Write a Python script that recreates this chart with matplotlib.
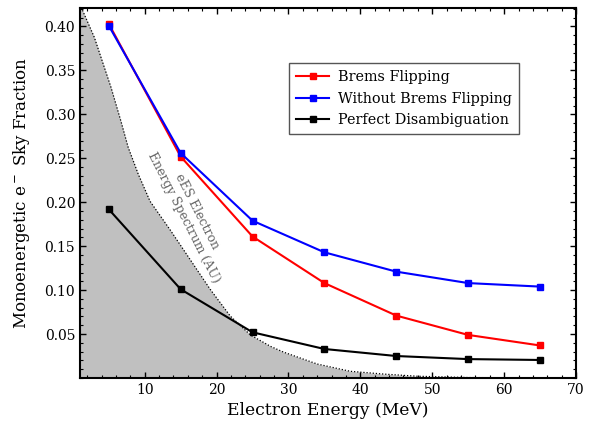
import matplotlib
matplotlib.use("Agg")
import matplotlib.pyplot as plt
from matplotlib.ticker import MultipleLocator

plt.rcParams['font.family'] = ['DejaVu Serif']
plt.rcParams['mathtext.fontset'] = 'dejavuserif'

energy = [5, 15, 25, 35, 45, 55, 65]
brems_flipping = [0.403, 0.252, 0.161, 0.108, 0.071, 0.049, 0.037]
without_brems = [0.401, 0.256, 0.179, 0.143, 0.121, 0.108, 0.104]
perfect = [0.192, 0.101, 0.052, 0.033, 0.025, 0.0215, 0.0205]

spec_energy = [1, 3, 5.3, 6.7, 7.7, 9.1, 10.75, 13.5, 16.3, 19.1, 21.9, 24.7,
               27.5, 29.3, 34, 38.6, 43.2, 47.9, 55, 70]
spec_value = [0.425, 0.3875, 0.331, 0.292, 0.2625, 0.232, 0.201, 0.169, 0.135,
              0.101, 0.0705, 0.049, 0.036, 0.0295, 0.0159, 0.0076, 0.0045,
              0.002, 0.0005, 0.0]

fig = plt.figure(figsize=(5.9, 4.23), dpi=100)
ax = fig.add_axes([0.1356, 0.1064, 0.8407, 0.8746])

# electron spectrum shape (arbitrary units) as a shaded background
ax.fill_between(spec_energy, spec_value, 0, color='#c0c0c0', lw=0, zorder=1)
ax.plot(spec_energy, spec_value, color='black', ls=(0, (1, 1.5)), lw=0.9, zorder=2)

ax.plot(energy, brems_flipping, color='#ff0000', marker='s', ms=5, lw=1.5,
        label='Brems Flipping', zorder=4)
ax.plot(energy, without_brems, color='#0000ff', marker='s', ms=5, lw=1.5,
        label='Without Brems Flipping', zorder=5)
ax.plot(energy, perfect, color='black', marker='s', ms=5, lw=1.5,
        label='Perfect Disambiguation', zorder=3)

ax.annotate('eES Electron\nEnergy Spectrum (AU)', xy=(16.3, 0.186), rotation=-63,
            ha='center', va='center', color='#666666', fontsize=9,
            multialignment='center', zorder=6)

ax.set_xlim(1, 70)
ax.set_ylim(0, 0.421)
ax.xaxis.set_major_locator(MultipleLocator(10))
ax.xaxis.set_minor_locator(MultipleLocator(2))
ax.yaxis.set_minor_locator(MultipleLocator(0.01))
ax.set_yticks([0.05, 0.10, 0.15, 0.20, 0.25, 0.30, 0.35, 0.40])
ax.tick_params(which='both', direction='in', top=True, right=True)
ax.tick_params(which='major', length=4, width=1, labelsize=10)
ax.tick_params(which='minor', length=2, width=0.8)
for s in ax.spines.values():
    s.set_linewidth(1.5)

ax.set_xlabel('Electron Energy (MeV)', fontsize=12.3)
ax.set_ylabel('Monoenergetic e$^-$ Sky Fraction', fontsize=12, labelpad=9)

leg = ax.legend(loc='upper left', bbox_to_anchor=(0.421, 0.851), borderaxespad=0,
                fontsize=10.4, fancybox=False, edgecolor='#555555', framealpha=1,
                handlelength=2.3, handletextpad=0.6, borderpad=0.5,
                labelspacing=0.5)
leg.get_frame().set_linewidth(1.0)

fig.savefig('out.png', dpi=100)
